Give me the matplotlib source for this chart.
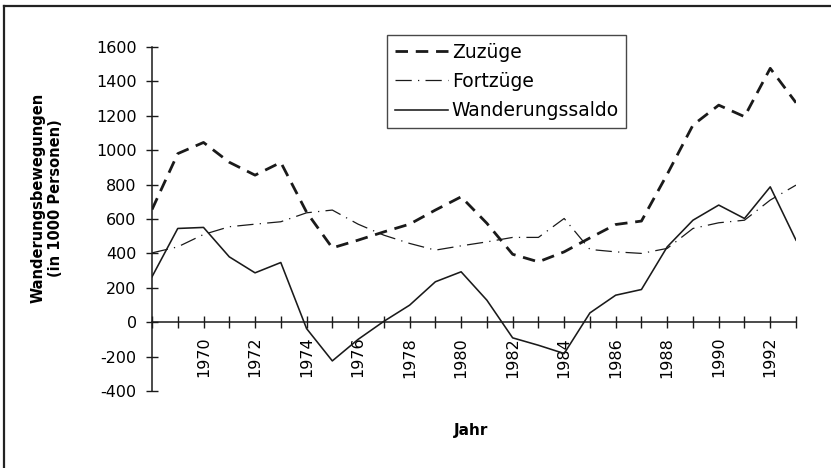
import matplotlib
matplotlib.use("Agg")
import matplotlib.pyplot as plt
from matplotlib.lines import Line2D

plt.rcParams['font.family'] = ['DejaVu Sans']

years = list(range(1968, 1994))
zuzuege = [655, 980, 1045, 930, 855, 929, 640, 432, 477, 525, 570, 652, 729,
           575, 395, 351, 409, 490, 568, 588, 860, 1146, 1262, 1195, 1476, 1276]
fortzuege = [403, 438, 510, 555, 570, 584, 636, 652, 570, 506, 458, 419, 444,
             467, 493, 493, 603, 423, 409, 400, 429, 545, 578, 593, 710, 797]
saldo = [264, 545, 551, 380, 287, 347, -37, -225, -100, 5, 99, 235, 293,
         128, -91, -134, -182, 54, 157, 190, 438, 593, 681, 603, 787, 477]
label_years = [1970, 1972, 1974, 1976, 1978, 1980, 1982, 1984, 1986, 1988, 1990, 1992]
y_ticks = [-400, -200, 0, 200, 400, 600, 800, 1000, 1200, 1400, 1600]
series_names = ["Zuzüge", "Fortzüge", "Wanderungssaldo"]

W, H = 831, 468
fig = plt.figure(figsize=(W / 100, H / 100), dpi=100)
ax = fig.add_axes([152 / W, 1 - 391 / H, (796 - 152) / W, (391 - 47) / H])

l1, = ax.plot(years, zuzuege, color='#1a1a1a', lw=2.0, dashes=(4.5, 2.8),
              label=series_names[0])
l2, = ax.plot(years, fortzuege, color='#1a1a1a', lw=0.9, dashes=(13, 5, 1, 5),
              label=series_names[1])
l3, = ax.plot(years, saldo, color='#1a1a1a', lw=1.15, label=series_names[2])

ax.set_xlim(1968, 1993)
ax.set_ylim(-400, 1600)
for s in ['top', 'right']:
    ax.spines[s].set_visible(False)
ax.spines['bottom'].set_position(('data', 0))
ax.spines['left'].set_position(('data', 1968))
for s in ['bottom', 'left']:
    ax.spines[s].set_linewidth(1.1)
    ax.spines[s].set_color('#1a1a1a')

ax.set_xticks(years)
ax.set_xticklabels([str(y) if y in label_years else '' for y in years],
                   rotation=90, fontsize=11.5)
ax.set_yticks(y_ticks)
ax.set_yticklabels([str(v) for v in y_ticks], fontsize=11.5)
ax.tick_params(axis='both', direction='inout', length=9, width=1.0, color='#1a1a1a')
ax.tick_params(axis='x', pad=6)
ax.tick_params(axis='y', pad=6.5)
ax.patch.set_visible(False)

leg = fig.legend(handles=[l1, l2, l3], loc='upper left',
                 bbox_to_anchor=(387 / W, 1 - 35 / H), frameon=True,
                 fancybox=False, fontsize=13.5, handlelength=2.85,
                 handletextpad=0.2, borderpad=0.4, labelspacing=0.55,
                 borderaxespad=0)
leg.get_frame().set_edgecolor('#1a1a1a')
leg.get_frame().set_linewidth(1.0)

fig.text(47 / W, 1 - 198 / H, "Wanderungsbewegungen\n(in 1000 Personen)",
         rotation=90, ha='center', va='center', multialignment='center',
         fontsize=10.5, fontweight='bold', linespacing=1.2)
fig.text(471 / W, 1 - 430 / H, "Jahr", ha='center', va='center',
         fontsize=11, fontweight='bold')

fig.add_artist(Line2D([4 / W, 1], [1 - 6 / H, 1 - 6 / H], transform=fig.transFigure,
                      color='#222222', lw=1.6))
fig.add_artist(Line2D([4 / W, 4 / W], [0, 1 - 6 / H], transform=fig.transFigure,
                      color='#222222', lw=1.6))

fig.savefig("out.png", dpi=100)
